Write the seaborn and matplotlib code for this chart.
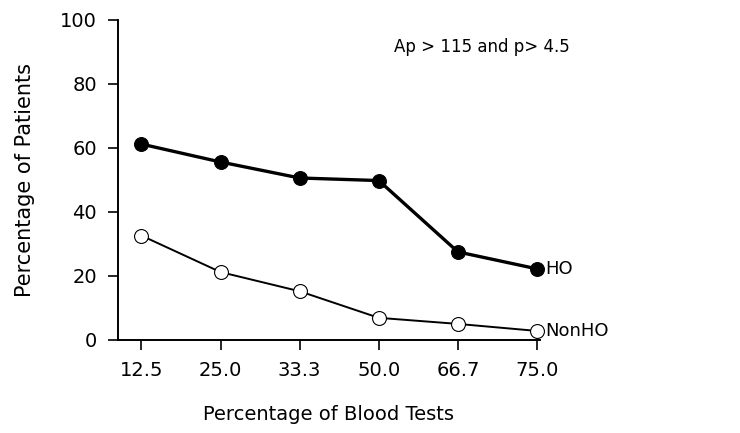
import matplotlib
matplotlib.use('Agg')
import matplotlib.pyplot as plt
import seaborn as sns
import pandas as pd

# Data
blood_tests = ['12.5', '25.0', '33.3', '50.0', '66.7', '75.0']
ho = [61.2, 55.6, 50.6, 49.8, 27.5, 22.2]
non_ho = [32.6, 21.2, 15.2, 6.9, 5.0, 2.8]

sns.set_style('ticks', {'axes.edgecolor': 'black', 'text.color': 'black',
                        'axes.labelcolor': 'black', 'xtick.color': 'black',
                        'ytick.color': 'black'})
plt.rcParams['font.family'] = ['DejaVu Sans']

fig = plt.figure(figsize=(7.4, 4.33), dpi=100)
ax = fig.add_axes([0.159, 0.215, 0.571, 0.739])

df = pd.DataFrame({'tests': blood_tests, 'HO': ho, 'NonHO': non_ho})

sns.lineplot(data=df, x='tests', y='HO', ax=ax, sort=False, color='black',
             linewidth=2.4, marker='o', markersize=10,
             markerfacecolor='black', markeredgecolor='black', zorder=3,
             clip_on=False)
sns.lineplot(data=df, x='tests', y='NonHO', ax=ax, sort=False, color='black',
             linewidth=1.4, marker='o', markersize=10,
             markerfacecolor='white', markeredgecolor='black',
             markeredgewidth=0.8, zorder=3, clip_on=False)

ax.text(len(blood_tests) - 1 + 0.1, ho[-1], 'HO', fontsize=13,
        va='center', ha='left', color='black')
ax.text(len(blood_tests) - 1 + 0.1, non_ho[-1], 'NonHO', fontsize=13,
        va='center', ha='left', color='black')
ax.text(0.655, 0.915, 'Ap > 115 and p> 4.5', transform=ax.transAxes,
        fontsize=12, ha='left', va='center', color='black')

ax.set_ylim(0, 100)
ax.set_xlim(-0.3, 5.04)
ax.set_yticks([0, 20, 40, 60, 80, 100])
ax.set_xticks(range(len(blood_tests)))
ax.set_xticklabels(blood_tests)
ax.tick_params(axis='both', labelsize=14, length=7, width=1.2, direction='out',
               colors='black')
ax.tick_params(axis='x', pad=8)
ax.tick_params(axis='y', pad=8)

ax.set_xlabel('Percentage of Blood Tests', fontsize=14, labelpad=18)
ax.set_ylabel('Percentage of Patients', fontsize=15, labelpad=18)

sns.despine(ax=ax, top=True, right=True)
for s in ['left', 'bottom']:
    ax.spines[s].set_linewidth(1.4)
    ax.spines[s].set_color('black')

plt.savefig('out.png', dpi=100)
